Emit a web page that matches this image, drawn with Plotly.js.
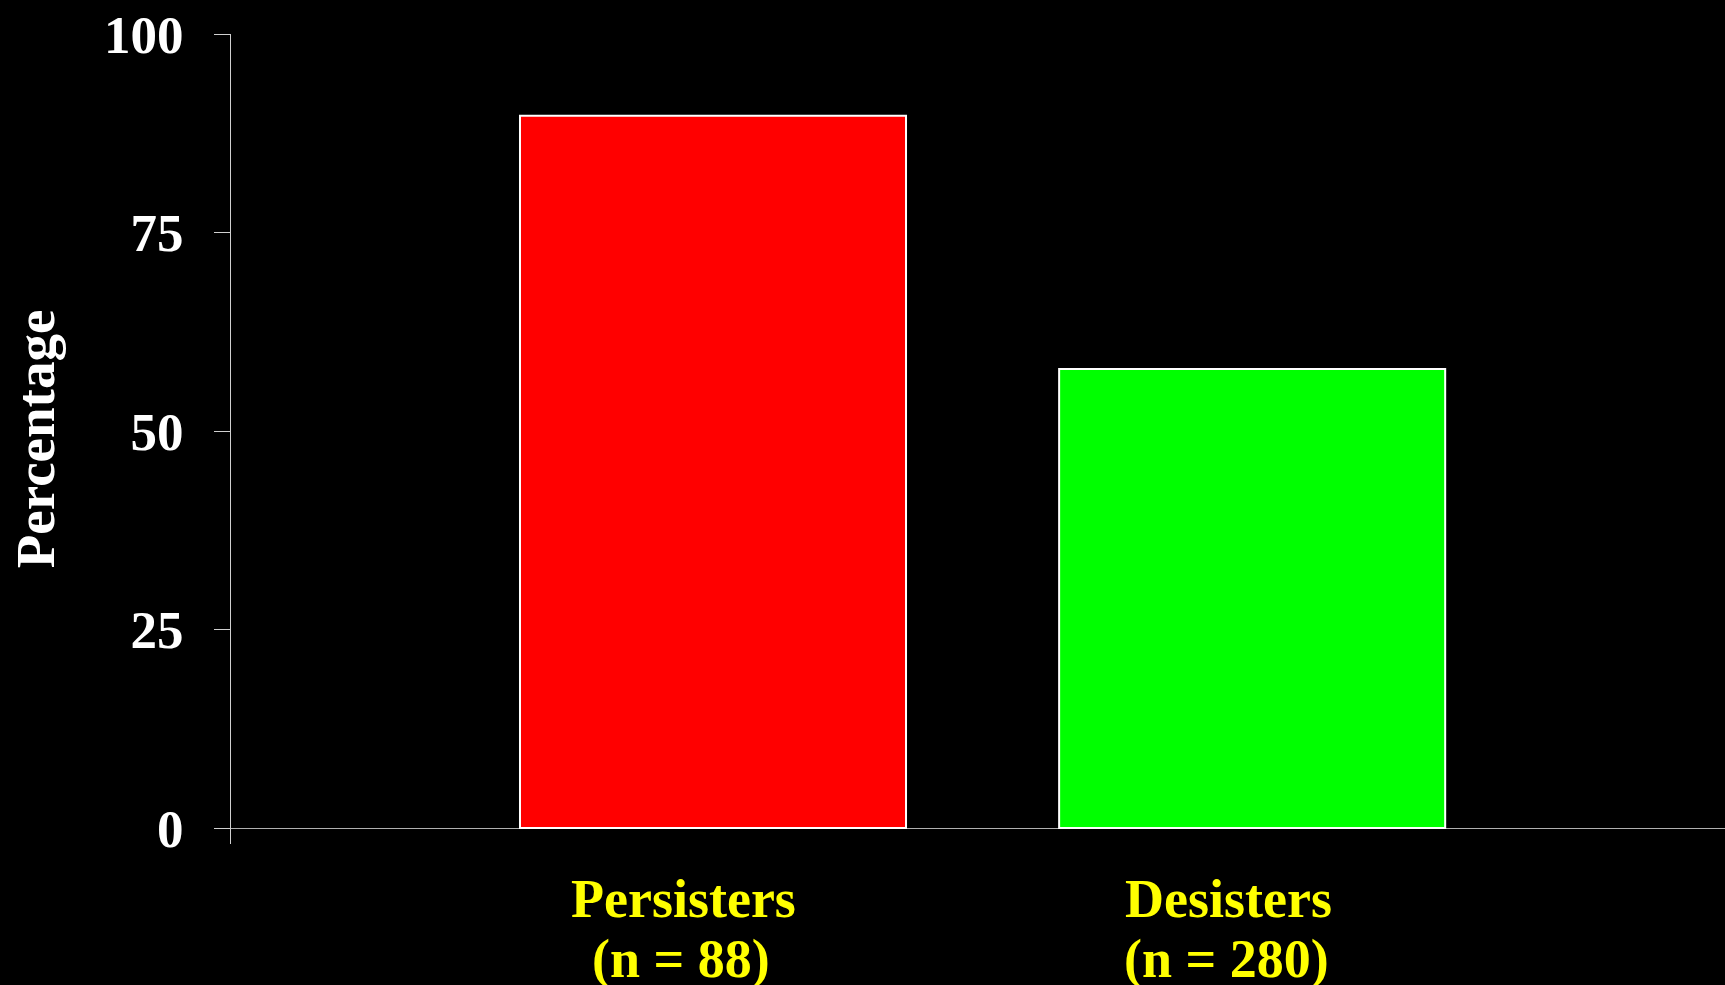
<!DOCTYPE html>
<html>
<head>
<meta charset="utf-8">
<script src="https://cdn.plot.ly/plotly-3.0.1.min.js"></script>
<style>
html,body{margin:0;padding:0;background:#000;}
#chart{width:1725px;height:985px;}
</style>
</head>
<body>
<div id="chart"></div>
<script>
var categories = ["Persisters", "Desisters"];
var groupSizes = ["(n = 88)", "(n = 280)"];
var percentages = [89.7, 57.8];
var barColors = ["#ff0000", "#00ff00"];
var yTickValues = [0, 25, 50, 75, 100];
var yTickLabels = ["0", "25", "50", "75", "100"];

var FONT = "'Liberation Serif', 'Times New Roman', serif";
var labelShift = [-30, -24];

var trace = {
  type: "bar",
  x: categories,
  y: percentages,
  width: 0.716,
  marker: {color: barColors, line: {color: "#ffffff", width: 2}},
  hoverinfo: "x+y"
};

var annotations = [];
categories.forEach(function (c, i) {
  annotations.push({
    xref: "x", yref: "paper", x: c, y: 0, yanchor: "top", xanchor: "center",
    xshift: labelShift[i], yshift: -23, showarrow: false, text: "<b>" + c + "</b>",
    font: {family: FONT, size: 54, color: "#ffff00"}
  });
  annotations.push({
    xref: "x", yref: "paper", x: c, y: 0, yanchor: "top", xanchor: "center",
    xshift: labelShift[i] - 2, yshift: -83, showarrow: false, text: "<b>" + groupSizes[i] + "</b>",
    font: {family: FONT, size: 54, color: "#ffff00"}
  });
});

var layout = {
  width: 1725, height: 985,
  paper_bgcolor: "#000000", plot_bgcolor: "#000000",
  margin: {l: 231, r: 0, t: 34, b: 141, pad: 0},
  showlegend: false,
  font: {family: FONT, color: "#ffffff"},
  xaxis: {
    type: "category",
    range: [-0.894, 1.877],
    showticklabels: false, ticks: "", showgrid: false,
    showline: false, zeroline: false, fixedrange: true
  },
  yaxis: {
    range: [-2.015, 100],
    tickvals: yTickValues, ticktext: yTickLabels,
    ticks: "outside", ticklen: 16, tickwidth: 1, tickcolor: "#d0d0d0",
    ticklabelstandoff: 20,
    tickfont: {family: FONT, size: 53, color: "#ffffff", weight: "bold"},
    showline: true, linecolor: "#d0d0d0", linewidth: 1,
    showgrid: false,
    zeroline: true, zerolinecolor: "#b0b0b0", zerolinewidth: 1,
    title: {text: "<b>Percentage</b>", font: {family: FONT, size: 55, color: "#ffffff"}, standoff: 31},
    fixedrange: true, automargin: false
  },
  annotations: annotations
};

Plotly.newPlot("chart", [trace], layout, {displayModeBar: false, staticPlot: true});
</script>
</body>
</html>
